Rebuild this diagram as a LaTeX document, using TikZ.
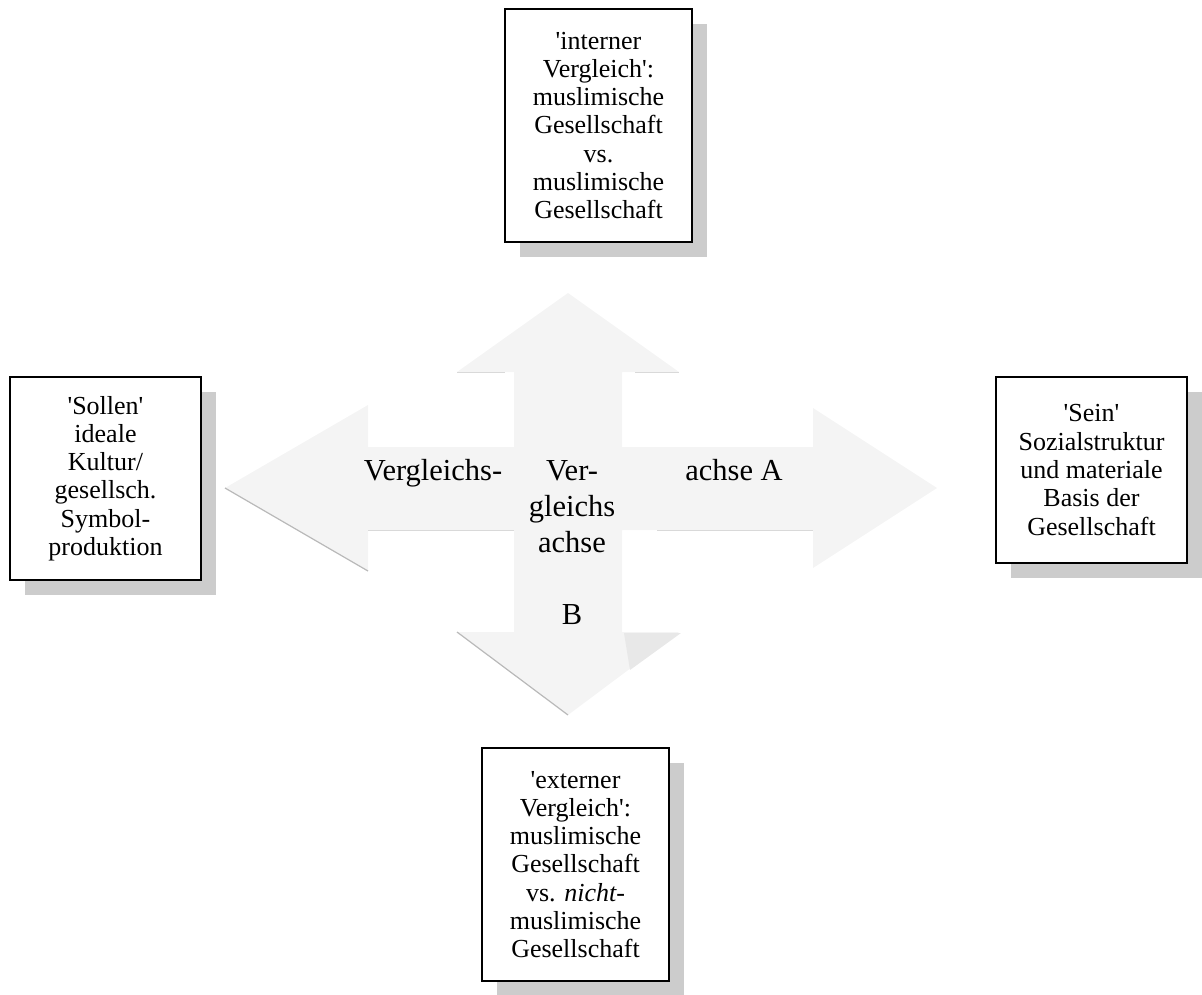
\documentclass[tikz,border=0pt]{standalone}
\usepackage{fontspec}
\setmainfont{Liberation Serif}
\usetikzlibrary{shadows}
\newcommand{\myq}{\textquotesingle}
\begin{document}
\begin{tikzpicture}[x=1pt,y=-1pt,
  txt/.style={font=\fontsize{26}{28.3}\selectfont},
  box/.style={txt, draw=black, line width=1.3pt, fill=white, inner sep=0pt,
    align=center,
    drop shadow={shadow xshift=15pt, shadow yshift=-15pt, fill=gray!40, opacity=1}},
  lbl/.style={font=\fontsize{30.5}{36}\selectfont, inner sep=0pt, align=center},
  axisfill/.style={fill=gray!9, draw=none},
  edgeline/.style={draw=gray!55, line width=1.2pt},
  faintline/.style={draw=gray!30, line width=0.8pt}]
\useasboundingbox (0,0) rectangle (1202,994);

% four-way arrow (comparison axes)
\fill[axisfill] (568,293) -- (679,372) -- (622,372) -- (622,447) -- (813,447)
  -- (813,408) -- (937,488) -- (813,568) -- (813,530) -- (622,530)
  -- (622,632) -- (679,632) -- (568,715) -- (457,632) -- (514,632)
  -- (514,530) -- (368,530) -- (368,571) -- (225,488) -- (368,405)
  -- (368,447) -- (514,447) -- (514,372) -- (457,372) -- cycle;
\fill[gray!18] (624,633) -- (681,633) -- (630,670) -- cycle;
\draw[edgeline] (225,488) -- (368,571);
\draw[edgeline] (457,632) -- (568,715);
\draw[faintline] (457,372) -- (505,372);
\draw[faintline] (635,372) -- (679,372);
\draw[faintline] (368,530) -- (514,530);
\draw[faintline] (657,530) -- (813,530);

% boxes
\node[box, minimum width=187pt, minimum height=233pt] (intern) at (598.5,125.5)
  {\myq interner\\ Vergleich\myq:\\ muslimische\\ Gesellschaft\\ vs.\\ muslimische\\ Gesellschaft};
\node[box, minimum width=191pt, minimum height=203pt] (sollen) at (105.5,478.5)
  {\myq Sollen\myq\\ ideale\\ Kultur/\\ gesellsch.\\ Symbol-\\ produktion};
\node[box, minimum width=191pt, minimum height=186pt] (sein) at (1091.5,470)
  {\myq Sein\myq\\ Sozialstruktur\\ und materiale\\ Basis der\\ Gesellschaft};
\node[box, minimum width=187pt, minimum height=233pt] (extern) at (575.5,864.5)
  {\myq externer\\ Vergleich\myq:\\ muslimische\\ Gesellschaft\\ vs. \textit{nicht-}\\ muslimische\\ Gesellschaft};

% axis labels
\node[lbl, anchor=base] (achseA1) at (433,480) {Vergleichs-};
\node[lbl, anchor=base] (achseA2) at (734,480) {achse A};
\node[lbl, anchor=north] (achseB) at (572,460)
  {Ver-\\ gleichs\\ achse\\[36pt] B};
\end{tikzpicture}
\end{document}
